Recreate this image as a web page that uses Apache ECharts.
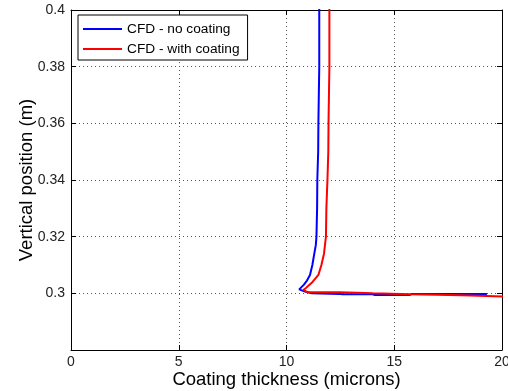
<!DOCTYPE html>
<html>
<head>
<meta charset="utf-8">
<script src="https://cdn.jsdelivr.net/npm/echarts@6/dist/echarts.min.js"></script>
<style>html,body{margin:0;padding:0;background:#fff;}#c{width:508px;height:391px;}</style>
</head>
<body>
<div id="c"></div>
<script>
// Data
const seriesNames = ['CFD - no coating', 'CFD - with coating'];
const xTicks = [0, 5, 10, 15, 20];
const yTicks = [0.3, 0.32, 0.34, 0.36, 0.38, 0.4];

// No coating: [thickness (microns), vertical position (m)]
const noCoating = [
  [11.52, 0.405], [11.52, 0.38], [11.48, 0.36], [11.47, 0.35], [11.43, 0.34],
  [11.42, 0.33], [11.39, 0.32], [11.36, 0.317], [11.29, 0.314], [11.20, 0.310],
  [11.09, 0.3065], [10.95, 0.3045], [10.80, 0.303], [10.59, 0.3014],
  [10.86, 0.3006], [11.17, 0.3000], [12.5, 0.2998], [12.6, 0.29965],
  [14.0, 0.29965], [14.1, 0.2994], [15.7, 0.2994], [15.8, 0.29975],
  [19.3, 0.29975]
];

// With coating
const withCoating = [
  [11.99, 0.405], [11.99, 0.38], [11.95, 0.36], [11.94, 0.35], [11.90, 0.34],
  [11.85, 0.33], [11.83, 0.32], [11.74, 0.314], [11.62, 0.310], [11.48, 0.3065],
  [11.17, 0.3037], [10.90, 0.3019], [10.78, 0.3012], [10.95, 0.3005],
  [11.23, 0.3004], [12.48, 0.3004], [12.5, 0.3000], [14.0, 0.3000],
  [14.02, 0.29965], [15.73, 0.29965], [15.75, 0.2993], [18.14, 0.2993],
  [18.16, 0.2988], [20.5, 0.2988]
];

const FONT = '"Liberation Sans Narrow", "Liberation Sans", Arial, sans-serif';
const FONT2 = '"Liberation Sans", Arial, Helvetica, sans-serif';

const chart = echarts.init(document.getElementById('c'), null, {renderer: 'canvas'});
const tickLabel = {color: '#222', fontFamily: FONT, fontSize: 14};
chart.setOption({
  animation: false,
  backgroundColor: '#fff',
  color: ['#0000ff', '#ff0000'],
  grid: {left: 71, right: 6, top: 10, bottom: 41, containLabel: false, outerBoundsMode: 'none'},
  legend: {
    data: seriesNames,
    orient: 'vertical',
    left: 78, top: 15,
    backgroundColor: '#fff',
    borderColor: '#000', borderWidth: 1, borderRadius: 0,
    padding: [7, 8, 4, 5],
    itemWidth: 39, itemHeight: 2, itemGap: 6,
    icon: 'rect',
    textStyle: {color: '#000', fontFamily: FONT2, fontSize: 13.7, lineHeight: 14}
  },
  xAxis: [{
    type: 'value', min: xTicks[0], max: xTicks[xTicks.length - 1], interval: 5,
    name: 'Coating thickness (microns)', nameLocation: 'middle', nameGap: 20,
    nameMoveOverlap: false,
    nameTextStyle: {color: '#000', fontFamily: FONT2, fontSize: 18.5},
    axisLine: {onZero: false, lineStyle: {color: '#000', width: 1}},
    axisTick: {inside: true, length: 5, lineStyle: {color: '#000'}},
    axisLabel: Object.assign({margin: 5}, tickLabel),
    splitLine: {show: true, lineStyle: {color: '#555', type: [1, 3], width: 1}}
  }, {
    type: 'value', position: 'top', min: xTicks[0], max: xTicks[xTicks.length - 1], interval: 5,
    axisLine: {onZero: false, lineStyle: {color: '#000', width: 1}},
    axisTick: {inside: true, length: 5, lineStyle: {color: '#000'}},
    axisLabel: {show: false}, splitLine: {show: false}
  }],
  yAxis: [{
    type: 'value', min: 0.28, max: yTicks[yTicks.length - 1], interval: 0.02,
    name: 'Vertical position (m)', nameLocation: 'middle', nameGap: 35,
    nameMoveOverlap: false,
    nameTextStyle: {color: '#000', fontFamily: FONT2, fontSize: 18.5},
    axisLine: {show: true, onZero: false, lineStyle: {color: '#000', width: 1}},
    axisTick: {show: true, inside: true, length: 5, lineStyle: {color: '#000'}},
    axisLabel: Object.assign({margin: 6, showMinLabel: false,
      formatter: v => String(parseFloat(v.toFixed(4)))}, tickLabel),
    splitLine: {show: true, lineStyle: {color: '#555', type: [1, 3], width: 1}}
  }, {
    type: 'value', position: 'right', min: 0.28, max: yTicks[yTicks.length - 1], interval: 0.02,
    axisLine: {show: true, onZero: false, lineStyle: {color: '#000', width: 1}},
    axisTick: {show: true, inside: true, length: 5, lineStyle: {color: '#000'}},
    axisLabel: {show: false}, splitLine: {show: false}
  }],
  series: [{
    name: seriesNames[0], type: 'line', data: noCoating, showSymbol: false, symbol: 'none',
    lineStyle: {width: 2, color: '#0000ff'}, itemStyle: {color: '#0000ff'}, clip: true, z: 3
  }, {
    name: seriesNames[1], type: 'line', data: withCoating, showSymbol: false, symbol: 'none',
    lineStyle: {width: 2, color: '#ff0000'}, itemStyle: {color: '#ff0000'}, clip: true, z: 4
  }]
});
</script>
</body>
</html>
